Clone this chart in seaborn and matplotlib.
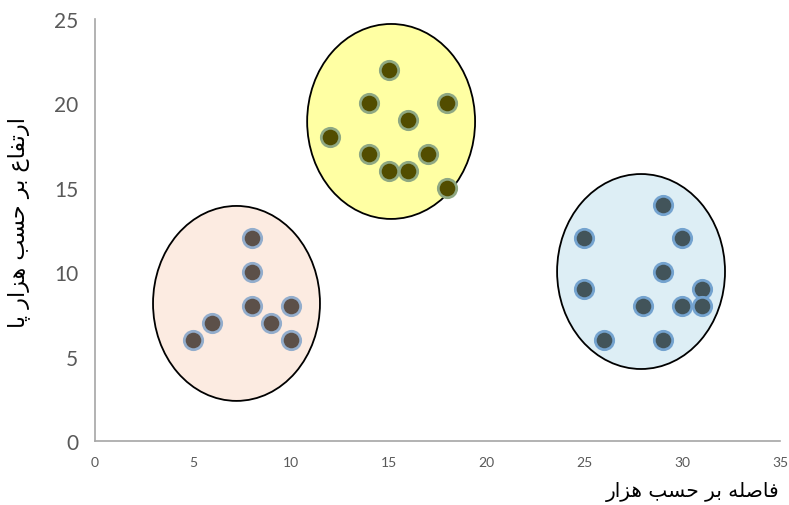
import matplotlib
matplotlib.use("Agg")
import matplotlib.pyplot as plt
from matplotlib.patches import Ellipse
import seaborn as sns
import pandas as pd

# ---- data ----
c1_x = [5, 6, 8, 8, 8, 9, 10, 10]
c1_y = [6, 7, 12, 10, 8, 7, 8, 6]
c2_x = [12, 14, 14, 15, 15, 16, 16, 17, 18, 18]
c2_y = [18, 20, 17, 22, 16, 19, 16, 17, 20, 15]
c3_x = [25, 25, 26, 28, 29, 29, 29, 30, 30, 31, 31]
c3_y = [12, 9, 6, 8, 14, 10, 6, 12, 8, 9, 8]
clusters = ["A", "B", "C"]

# enclosing ellipses (data units)
ell_cx = [7.23, 15.13, 27.9]
ell_cy = [8.15, 18.93, 10.04]
ell_w = [8.53, 8.58, 8.58]
ell_h = [11.55, 11.55, 11.55]

x_ticks = [0, 5, 10, 15, 20, 25, 30, 35]
y_ticks = [0, 5, 10, 15, 20, 25]

# Persian labels (logical order in presentation forms, reversed for LTR drawing)
def visual(s):
    return s[::-1]

w_fasele = "\uFED3\uFE8E\uFEBB\uFEE0\uFEEA"     # فاصله
w_bar = "\uFE91\uFEAE"                          # بر
w_hasab = "\uFEA3\uFEB4\uFE90"                  # حسب
w_hezar = "\uFEEB\uFEB0\uFE8D\uFEAD"            # هزار
w_ertefa = "\uFE8D\uFEAD\uFE97\uFED4\uFE8E\uFEC9"  # ارتفاع
w_pa = "\uFB58\uFE8E"                            # پا
x_label = visual(" ".join([w_fasele, w_bar, w_hasab, w_hezar]))
y_label = visual(" ".join([w_ertefa, w_bar, w_hasab, w_hezar, w_pa]))

df = pd.DataFrame({
    "x": c1_x + c2_x + c3_x,
    "y": c1_y + c2_y + c3_y,
    "cluster": [clusters[0]] * len(c1_x) + [clusters[1]] * len(c2_x) + [clusters[2]] * len(c3_x),
})

ell_fill = ["#fcebe1", "#ffffa3", "#ddeef5"]
face_cols = {"A": "#5c5049", "B": "#524d00", "C": "#42545a"}
edge_cols = {"A": "#93adcc", "B": "#8fa883", "C": "#74a3cf"}

sns.set_style("white")
plt.rcParams["font.family"] = ["Lato", "DejaVu Sans"]

fig = plt.figure(figsize=(7.89, 5.06), dpi=100)
ax = fig.add_axes([0.1204, 0.1265, 0.8682, 0.834])

for i in range(3):
    ax.add_patch(Ellipse((ell_cx[i], ell_cy[i]), ell_w[i], ell_h[i],
                         facecolor=ell_fill[i], edgecolor="black", lw=1.3, zorder=1))

for c in clusters:
    sub = df[df["cluster"] == c]
    sns.scatterplot(data=sub, x="x", y="y", ax=ax, s=175,
                    color=face_cols[c], edgecolor=edge_cols[c], linewidth=2.0,
                    legend=False, zorder=3)

ax.set_xlim(0, 35)
ax.set_ylim(0, 25)
ax.set_xticks(x_ticks)
ax.set_yticks(y_ticks)
ax.tick_params(axis="x", labelsize=10, colors="#a6a6a6", labelcolor="#595959",
               direction="out", length=5, width=1, pad=6)
ax.tick_params(axis="y", labelsize=15, colors="#a6a6a6", labelcolor="#595959",
               direction="out", length=6, width=1, pad=6)
for sp in ["top", "right"]:
    ax.spines[sp].set_visible(False)
for sp in ["left", "bottom"]:
    ax.spines[sp].set_color("#a6a6a6")
    ax.spines[sp].set_linewidth(1.2)

ax.set_xlabel("")
ax.set_ylabel("")
fig.text(0.988, 0.027, x_label, ha="right", va="center", fontsize=14.5,
         family=["DejaVu Sans"], color="black")
fig.text(0.023, 0.56, y_label, ha="center", va="center", fontsize=16,
         rotation=90, family=["DejaVu Sans"], color="black")

fig.savefig("out.png", dpi=100)
